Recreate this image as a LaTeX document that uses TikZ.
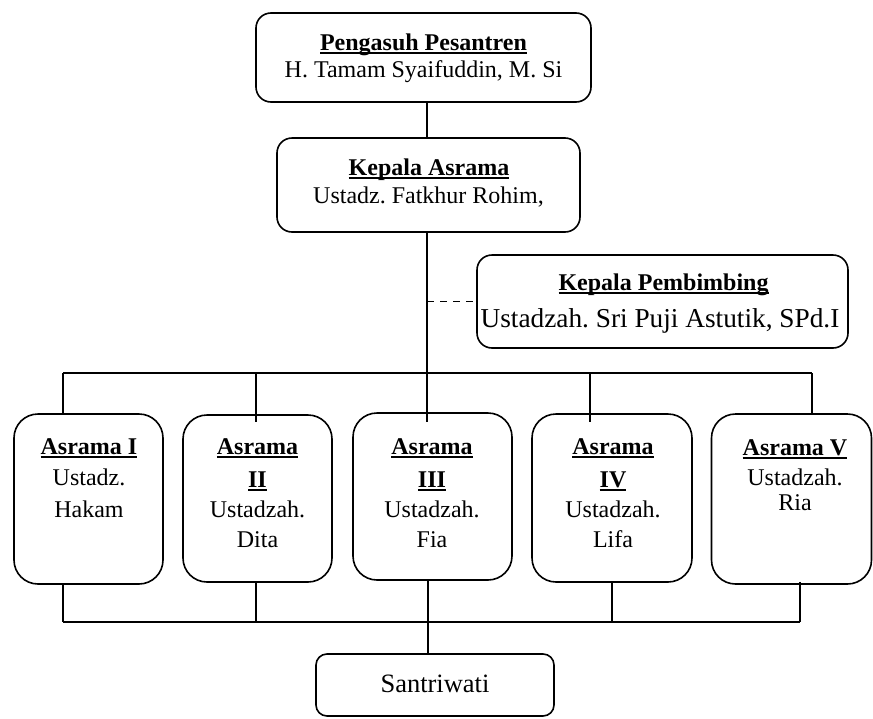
\documentclass[tikz,border=0pt]{standalone}
\usepackage{fontspec}
\setmainfont{Liberation Serif}
\frenchspacing
\newcommand\uln[1]{\setbox0=\hbox{#1}\rlap{\rule[-4.2pt]{\wd0}{1.9pt}}\box0}
\begin{document}
\begin{tikzpicture}[x=1pt,y=-1pt,
  box/.style={draw, line width=1.6pt, rounded corners=#1, inner sep=0pt},
  box/.default=14pt,
  ln/.style={line width=1.4pt},
  t/.style={anchor=base, inner sep=0pt, font=\fontsize{24}{28}\selectfont},
  tb/.style={t, font=\fontsize{24}{28}\selectfont\bfseries},
  tl/.style={anchor=base, inner sep=0pt, font=\fontsize{27.3}{30}\selectfont},
  ts/.style={anchor=base, inner sep=0pt, font=\fontsize{26.5}{30}\selectfont}]
\useasboundingbox (0,0) rectangle (873,718);
% boxes
\node[box=15pt, minimum width=335pt, minimum height=89pt] (top) at (423.5,57.5) {};
\node[box=15pt, minimum width=303pt, minimum height=94pt] (kep) at (428.5,185) {};
\node[box=15pt, minimum width=371pt, minimum height=93pt] (pem) at (662.5,301.5) {};
\node[box=24pt, minimum width=149pt, minimum height=170pt] (a1) at (88.5,499) {};
\node[box=24pt, minimum width=149pt, minimum height=167pt] (a2) at (257.5,498.5) {};
\node[box=24pt, minimum width=159pt, minimum height=167pt] (a3) at (432.5,496.5) {};
\node[box=24pt, minimum width=160pt, minimum height=168pt] (a4) at (612,498) {};
\node[box=24pt, minimum width=160pt, minimum height=170pt] (a5) at (791.5,499) {};
\node[box=11pt, minimum width=238pt, minimum height=62pt] (sw) at (435,685) {};
% texts
\node[tb] (topA) at (423.5,50) {\uln{Pengasuh Pesantren}};
\node[t]  (topB) at (423.5,77) {H. Tamam Syaifuddin, M. Si};
\node[tb] (kepA) at (429,175) {\uln{Kepala Asrama}};
\node[t]  (kepB) at (428.5,203) {Ustadz. Fatkhur Rohim,};
\node[tb] (pemA) at (663.5,290) {\uln{Kepala Pembimbing}};
\node[tl] (pemB) at (660,327) {Ustadzah. Sri Puji Astutik, SPd.I};
\node[tb] (a1A) at (89,454) {\uln{Asrama I}};
\node[t]  (a1B) at (89,485) {Ustadz.};
\node[t]  (a1C) at (89,517) {Hakam};
\node[tb] (a2A) at (257.5,454) {\uln{Asrama}};
\node[tb] (a2B) at (257.5,487) {\uln{II}};
\node[t]  (a2C) at (257.5,517) {Ustadzah.};
\node[t]  (a2D) at (257.5,547) {Dita};
\node[tb] (a3A) at (432,454) {\uln{Asrama}};
\node[tb] (a3B) at (432,487) {\uln{III}};
\node[t]  (a3C) at (432,517) {Ustadzah.};
\node[t]  (a3D) at (432,547) {Fia};
\node[tb] (a4A) at (613,454) {\uln{Asrama}};
\node[tb] (a4B) at (613,487) {\uln{IV}};
\node[t]  (a4C) at (613,517) {Ustadzah.};
\node[t]  (a4D) at (613,547) {Lifa};
\node[tb] (a5A) at (795,455) {\uln{Asrama V}};
\node[t]  (a5B) at (795,485) {Ustadzah.};
\node[t]  (a5C) at (795,510) {Ria};
\node[ts] (swA) at (435,692) {Santriwati};
% junctions
\coordinate (hub) at (427,373);
\coordinate (j1) at (63,373);
\coordinate (j2) at (256,373);
\coordinate (j4) at (590,373);
\coordinate (j5) at (812,373);
\coordinate (k1) at (63,622);
\coordinate (k2) at (256,622);
\coordinate (k3) at (428,622);
\coordinate (k4) at (612,622);
\coordinate (k5) at (800,622);
% connectors
\draw[ln] (top.south -| hub) -- (kep.north -| hub);
\draw[ln] (kep.south -| hub) -- ([yshift=-10pt]a3.north -| hub);
\draw[ln, dash pattern=on 7pt off 6pt] (pem.west -| hub) -- (pem.west);
\draw[ln] (j1) -- (j5);
\draw[ln] (j1) -- (a1.north -| j1);
\draw[ln] (j2) -- ([yshift=-8pt]a2.north -| j2);
\draw[ln] (j4) -- ([yshift=-9pt]a4.north -| j4);
\draw[ln] (j5) -- (a5.north -| j5);
\draw[ln] (a1.south -| k1) -- (k1);
\draw[ln] (a2.south -| k2) -- (k2);
\draw[ln] (a3.south -| k3) -- (k3);
\draw[ln] (a4.south -| k4) -- (k4);
\draw[ln] ([yshift=3pt]a5.south -| k5) -- (k5);
\draw[ln] (k1) -- (k5);
\draw[ln] (k3) -- (sw.north -| k3);
\end{tikzpicture}
\end{document}
